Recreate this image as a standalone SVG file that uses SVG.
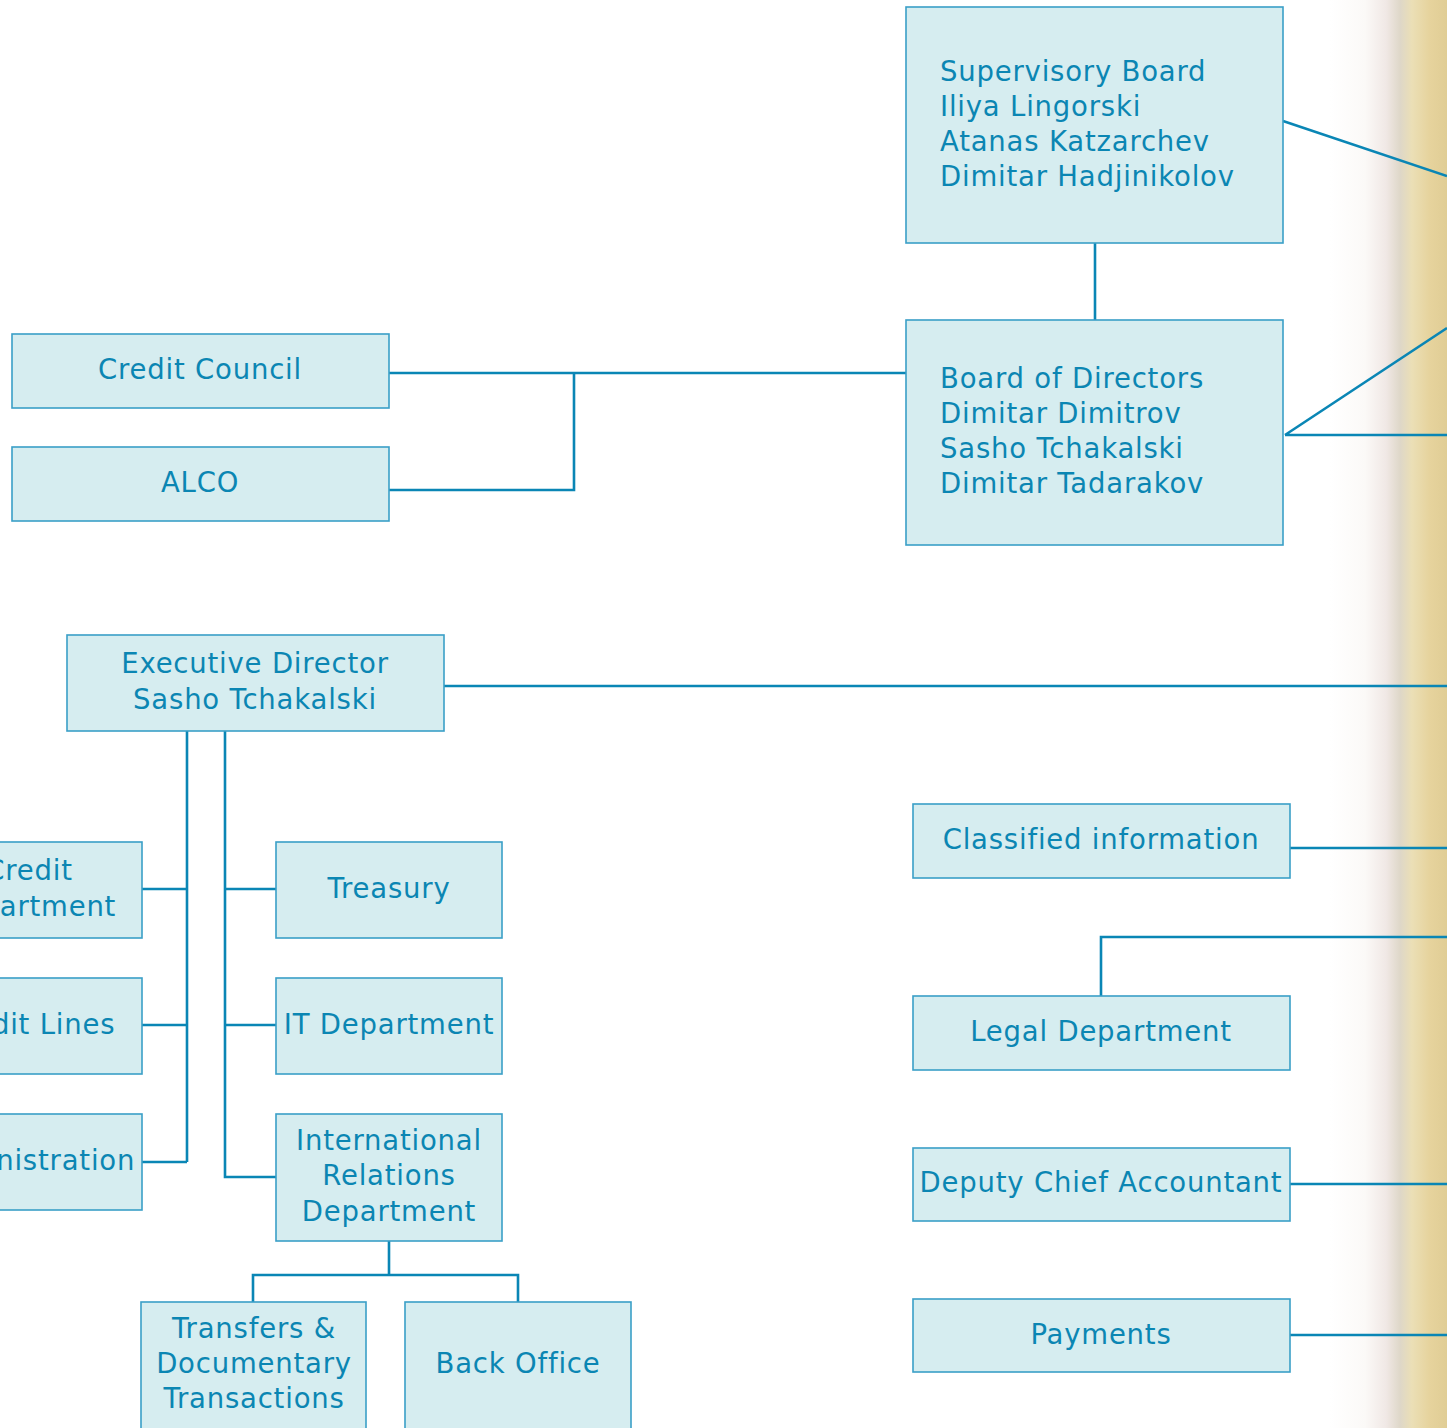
<svg xmlns="http://www.w3.org/2000/svg" width="1447" height="1428" viewBox="0 0 1447 1428">
<defs>
<linearGradient id="paper" gradientUnits="userSpaceOnUse" x1="1330" y1="0" x2="1447" y2="0">
<stop offset="0" stop-color="#ffffff"/>
<stop offset="0.3" stop-color="#fbf9f7"/>
<stop offset="0.48" stop-color="#f0e8e5"/>
<stop offset="0.6" stop-color="#ded7c8"/>
<stop offset="0.7" stop-color="#ebdfb6"/>
<stop offset="0.85" stop-color="#e6d39d"/>
<stop offset="1" stop-color="#e0cd95"/>
</linearGradient>
<style>
.box{fill:#d6edf0;stroke:#3a9fc7;stroke-width:1.6}
.t{font-family:"DejaVu Sans",Verdana,sans-serif;font-size:27.5px;fill:#0b86b3;letter-spacing:0.8px}
.c{text-anchor:middle}
.ln{fill:none;stroke:#0a86b5;stroke-width:2.6}
</style>
</defs>
<rect x="0" y="0" width="1447" height="1428" fill="#ffffff"/>
<rect x="1330" y="0" width="117" height="1428" fill="url(#paper)"/>

<g id="connectors">
<path class="ln" d="M1283,121 L1447,176"/>
<path class="ln" d="M1285,435 L1447,328 M1285,435 L1447,435"/>
<path class="ln" d="M1095,243 L1095,320"/>
<path class="ln" d="M389,373 L906,373 M389,490 L574,490 L574,373"/>
<path class="ln" d="M444,686 L1447,686"/>
<path class="ln" d="M187,731 L187,1162 M142,889 L187,889 M142,1025 L187,1025 M142,1162 L187,1162"/>
<path class="ln" d="M225,731 L225,1177 L276,1177 M225,889 L276,889 M225,1025 L276,1025"/>
<path class="ln" d="M389,1241 L389,1275 M253,1302 L253,1275 L518,1275 L518,1302"/>
<path class="ln" d="M1290,848 L1447,848"/>
<path class="ln" d="M1101,996 L1101,937 L1447,937"/>
<path class="ln" d="M1290,1184 L1447,1184"/>
<path class="ln" d="M1290,1335 L1447,1335"/>
</g>

<g id="supervisory-board">
<rect class="box" x="906" y="7" width="377" height="236"/>
<text class="t" x="940" y="81">Supervisory Board</text>
<text class="t" x="940" y="116">Iliya Lingorski</text>
<text class="t" x="940" y="151">Atanas Katzarchev</text>
<text class="t" x="940" y="186">Dimitar Hadjinikolov</text>
</g>

<g id="board-of-directors">
<rect class="box" x="906" y="320" width="377" height="225"/>
<text class="t" x="940" y="388">Board of Directors</text>
<text class="t" x="940" y="423">Dimitar Dimitrov</text>
<text class="t" x="940" y="458">Sasho Tchakalski</text>
<text class="t" x="940" y="493">Dimitar Tadarakov</text>
</g>

<g id="credit-council">
<rect class="box" x="12" y="334" width="377" height="74"/>
<text class="t c" x="200" y="379">Credit Council</text>
</g>

<g id="alco">
<rect class="box" x="12" y="447" width="377" height="74"/>
<text class="t c" x="200" y="492">ALCO</text>
</g>

<g id="executive-director">
<rect class="box" x="67" y="635" width="377" height="96"/>
<text class="t c" x="255" y="673">Executive Director</text>
<text class="t c" x="255" y="709">Sasho Tchakalski</text>
</g>

<g id="credit-department">
<rect class="box" x="-84" y="842" width="226" height="96"/>
<text class="t c" x="29" y="880">Credit</text>
<text class="t c" x="29" y="916">Department</text>
</g>

<g id="credit-lines">
<rect class="box" x="-84" y="978" width="226" height="96"/>
<text class="t c" x="29" y="1034">Credit Lines</text>
</g>

<g id="administration">
<rect class="box" x="-84" y="1114" width="226" height="96"/>
<text class="t c" x="29" y="1170">Administration</text>
</g>

<g id="treasury">
<rect class="box" x="276" y="842" width="226" height="96"/>
<text class="t c" x="389" y="898">Treasury</text>
</g>

<g id="it-department">
<rect class="box" x="276" y="978" width="226" height="96"/>
<text class="t c" x="389" y="1034">IT Department</text>
</g>

<g id="international-relations">
<rect class="box" x="276" y="1114" width="226" height="127"/>
<text class="t c" x="389" y="1150">International</text>
<text class="t c" x="389" y="1185">Relations</text>
<text class="t c" x="389" y="1221">Department</text>
</g>

<g id="transfers">
<rect class="box" x="141" y="1302" width="225" height="140"/>
<text class="t c" x="254" y="1338">Transfers &amp;</text>
<text class="t c" x="254" y="1373">Documentary</text>
<text class="t c" x="254" y="1408">Transactions</text>
</g>

<g id="back-office">
<rect class="box" x="405" y="1302" width="226" height="140"/>
<text class="t c" x="518" y="1373">Back Office</text>
</g>

<g id="classified-information">
<rect class="box" x="913" y="804" width="377" height="74"/>
<text class="t c" x="1101" y="849">Classified information</text>
</g>

<g id="legal-department">
<rect class="box" x="913" y="996" width="377" height="74"/>
<text class="t c" x="1101" y="1041">Legal Department</text>
</g>

<g id="deputy-chief-accountant">
<rect class="box" x="913" y="1148" width="377" height="73"/>
<text class="t c" x="1101" y="1192">Deputy Chief Accountant</text>
</g>

<g id="payments">
<rect class="box" x="913" y="1299" width="377" height="73"/>
<text class="t c" x="1101" y="1344">Payments</text>
</g>
</svg>
